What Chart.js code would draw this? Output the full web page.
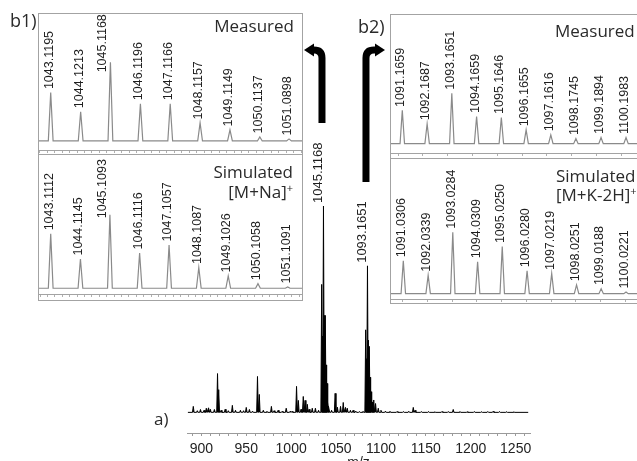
<!DOCTYPE html>
<html>
<head>
<meta charset="utf-8">
<script src="https://cdn.jsdelivr.net/npm/chart.js@4.4.1/dist/chart.umd.min.js"></script>
<style>
  html, body { margin: 0; padding: 0; background: #fff; }
  body { width: 637px; height: 461px; overflow: hidden; position: relative; font-family: "Open Sans", sans-serif; }
  #full { position: absolute; left: 0; top: 0; }
  .inset { position: absolute; box-sizing: border-box; border: 1px solid #a3a3a3; background: #fff; }
  .inset canvas { position: absolute; left: 0; }
  .tag { position: absolute; color: #2a2a2a; font-size: 17px; line-height: 1; white-space: nowrap; }
  .tag sup { font-size: 11px; vertical-align: 6px; line-height: 0; }
</style>
</head>
<body>
<canvas id="full" width="637" height="472"></canvas>

<div class="inset" id="b1" style="left:38px; top:13px; width:265px; height:288px;">
  <canvas id="b1Meas" width="263" height="139" style="top:0px"></canvas>
  <canvas id="b1Sim" width="263" height="143" style="top:140px"></canvas>
  <div class="tag" style="right:8px; top:3px;">Measured</div>
  <div class="tag" style="right:9px; top:149px;">Simulated</div>
  <div class="tag" style="right:9px; top:169px;">[M+Na]<sup>+</sup></div>
</div>

<div class="inset" id="b2" style="left:390px; top:14px; width:260px; height:290px;">
  <canvas id="b2Meas" width="258" height="141" style="top:0px"></canvas>
  <canvas id="b2Sim" width="258" height="144" style="top:143px"></canvas>
  <div class="tag" style="left:164px; top:7px;">Measured</div>
  <div class="tag" style="left:165px; top:152px;">Simulated</div>
  <div class="tag" style="left:165px; top:171px;">[M+K-2H]<sup>+</sup></div>
</div>

<div class="tag" style="left:10px; top:11px; font-size:18px;">b1)</div>
<div class="tag" style="left:358px; top:17px; font-size:18px;">b2)</div>
<div class="tag" style="left:154px; top:410px;">a)</div>

<script>
// ---- full spectrum (a): peak positions as they sit on the m/z axis, heights in % of base peak
const fullMz = [891, 895.5, 899, 903, 905.5, 908, 910, 914.5, 918, 919.3, 922, 926.5, 930, 934.5, 938,
  943.5, 947, 950, 953.5, 957, 962.5, 964.5, 969, 973, 978, 981, 985.5, 990, 994.5, 999, 1001,
  1006, 1008, 1011, 1013.5, 1015.5, 1018, 1020, 1023.5, 1027, 1030.5,
  1034, 1035, 1036, 1037, 1038, 1039, 1040, 1041, 1042, 1045,
  1049, 1051.5, 1055, 1058, 1060.5, 1062.5, 1066, 1069, 1072, 1076, 1080,
  1083, 1084, 1085, 1086, 1087, 1088, 1089, 1090, 1091, 1092,
  1094, 1097, 1100, 1105, 1110, 1118, 1125, 1131, 1136, 1138, 1145, 1153, 1160, 1168, 1175,
  1180.5, 1188, 1196, 1204, 1212, 1219, 1225, 1232, 1240, 1248];
const fullInt = [2.9, 0.8, 1.4, 1, 2, 2.2, 1.5, 1.4, 18.8, 11, 1, 1.5, 0.8, 3.4, 1,
  1, 0.8, 2.4, 1.4, 0.6, 17.4, 8.7, 1, 0.5, 2.9, 0.8, 1, 0.5, 2, 0.6, 0.5,
  12.6, 5.8, 1.5, 7.7, 5.8, 3.9, 1.5, 2, 2, 1,
  62, 37, 100, 47, 47, 23, 14, 5, 3, 1,
  9.2, 2.5, 2.9, 4.8, 2.4, 2, 1, 1, 0.6, 0.4, 0.5,
  40, 26, 71, 35, 32, 17, 10, 6, 5, 6,
  4.3, 2, 1, 0.6, 0.5, 0.4, 0.4, 0.5, 2.4, 1, 0.4, 0.4, 0.3, 0.4, 0.4,
  1.4, 0.4, 0.3, 0.4, 0.3, 0.4, 0.5, 0.4, 0.3, 0.3];
const fullTagText = ['1045.1168', '1093.1651'];
const fullTagAt = [1036, 1085];
const fullTagHeight = [100, 71];

// ---- b1: [M+Na]+ isotope pattern
const b1MeasMz = [1043.1195, 1044.1213, 1045.1168, 1046.1196, 1047.1166, 1048.1157, 1049.1149, 1050.1137, 1051.0898];
const b1MeasInt = [61.5, 37.2, 100, 47.4, 47.4, 23, 14.1, 5.1, 2.6];
const b1SimMz = [1043.1112, 1044.1145, 1045.1093, 1046.1116, 1047.1057, 1048.1087, 1049.1026, 1050.1058, 1051.1091];
const b1SimInt = [74, 39.7, 100, 48, 58.9, 28.2, 16.8, 6.3, 1.8];

// ---- b2: [M+K-2H]+ isotope pattern
const b2MeasMz = [1091.1659, 1092.1687, 1093.1651, 1094.1659, 1095.1646, 1096.1655, 1097.1616, 1098.1745, 1099.1894, 1100.1983];
const b2MeasInt = [66, 39.4, 100, 54, 52, 27.4, 17.4, 10, 12, 12];
const b2SimMz = [1091.0306, 1092.0339, 1093.0284, 1094.0309, 1095.0250, 1096.0280, 1097.0219, 1098.0251, 1099.0188, 1100.0221];
const b2SimInt = [53.6, 30, 100, 52, 76.6, 37.2, 32.8, 14.3, 8.2, 2.8];

// turns a peak list into a stick profile on a flat baseline
function profile(mz, inten, half, lo, hi) {
  const pts = [{x: lo, y: 0}];
  mz.forEach((m, i) => {
    pts.push({x: m - half, y: 0}, {x: m, y: inten[i]}, {x: m + half, y: 0});
  });
  pts.push({x: hi, y: 0});
  return pts;
}

// vertical m/z labels sitting on top of the peaks
const peakTags = {
  id: 'peakTags',
  afterDatasetsDraw(chart, args, o) {
    const ctx = chart.ctx, x = chart.scales.x, y = chart.scales.y;
    const nudge = o.nudge || {};
    ctx.save();
    ctx.font = o.font;
    ctx.fillStyle = '#1e1e1e';
    ctx.textAlign = 'left';
    ctx.textBaseline = 'middle';
    o.at.forEach((m, i) => {
      const n = nudge[i] || [0, 0];
      ctx.save();
      ctx.translate(x.getPixelForValue(m) + o.dx + n[0], y.getPixelForValue(o.height[i]) - o.gap + n[1]);
      ctx.rotate(-Math.PI / 2);
      ctx.fillText(o.text[i], 0, 0);
      ctx.restore();
    });
    ctx.restore();
  }
};

// line along the top of the lower panels
const topRule = {
  id: 'topRule',
  afterDraw(chart, args, o) {
    if (!o.show) return;
    const ctx = chart.ctx, a = chart.chartArea;
    ctx.save();
    ctx.strokeStyle = '#a3a3a3';
    ctx.lineWidth = 1;
    ctx.beginPath();
    ctx.moveTo(a.left, a.top + 0.5);
    ctx.lineTo(a.right, a.top + 0.5);
    ctx.stroke();
    ctx.restore();
  }
};

// the two thick arrows pointing from the peaks to the zoomed panels
const arrows = {
  id: 'arrows',
  afterDraw(chart) {
    const ctx = chart.ctx, x = chart.scales.x;
    ctx.save();
    ctx.strokeStyle = '#000';
    ctx.fillStyle = '#000';
    ctx.lineWidth = 7;
    // left one, up from 1045 then to b1
    let bx = x.getPixelForValue(fullTagAt[0]) - 1.5;
    ctx.beginPath();
    ctx.moveTo(bx, 123);
    ctx.lineTo(bx, 58);
    ctx.quadraticCurveTo(bx, 50, bx - 8, 50);
    ctx.lineTo(312, 50);
    ctx.stroke();
    ctx.beginPath();
    ctx.moveTo(304, 50); ctx.lineTo(314, 43.5); ctx.lineTo(314, 56.5); ctx.closePath();
    ctx.fill();
    // right one, up from 1093 then to b2
    bx = x.getPixelForValue(fullTagAt[1]) - 1.5;
    ctx.beginPath();
    ctx.moveTo(bx, 182);
    ctx.lineTo(bx, 58);
    ctx.quadraticCurveTo(bx, 50, bx + 8, 50);
    ctx.lineTo(377, 50);
    ctx.stroke();
    ctx.beginPath();
    ctx.moveTo(385, 50); ctx.lineTo(375, 43.5); ctx.lineTo(375, 56.5); ctx.closePath();
    ctx.fill();
    ctx.restore();
  }
};

// main spectrum
new Chart(document.getElementById('full').getContext('2d'), {
  type: 'line',
  data: {
    datasets: [{
      data: profile(fullMz, fullInt, 0.9, 885, 1264),
      borderColor: '#000',
      backgroundColor: '#000',
      borderWidth: 1,
      fill: 'origin',
      pointRadius: 0,
      tension: 0
    }]
  },
  options: {
    responsive: false,
    animation: false,
    layout: { padding: { left: 187, right: 107, top: 206, bottom: 0 } },
    plugins: {
      legend: { display: false },
      tooltip: { enabled: false },
      peakTags: { text: fullTagText, at: fullTagAt, height: fullTagHeight, dx: -5, gap: 3,
                  font: '13px "Liberation Sans", Arial, sans-serif' }
    },
    scales: {
      x: {
        type: 'linear', min: 884, max: 1266,
        afterFit: s => { s.height = 39; },
        border: { display: true, color: '#9a9a9a' },
        grid: { display: true, drawOnChartArea: false, drawTicks: true, tickLength: 3, color: '#9a9a9a' },
        ticks: {
          stepSize: 10, autoSkip: false, maxRotation: 0, includeBounds: false, padding: 5,
          color: '#222', font: { family: '"Liberation Sans", Arial, sans-serif', size: 14 },
          callback: v => (v % 50 === 0 ? v : '')
        },
        title: { display: true, text: 'm/z', color: '#222', padding: { top: 0, bottom: 0 },
                 font: { family: '"Liberation Sans", Arial, sans-serif', size: 14 } }
      },
      y: { display: false, min: -10, max: 100 }
    }
  },
  plugins: [peakTags, arrows]
});

// one zoomed panel
function panel(id, mz, inten, half, xmin, xmax, ymin, ymax, step, rule, nudge) {
  new Chart(document.getElementById(id).getContext('2d'), {
    type: 'line',
    data: {
      datasets: [{
        data: profile(mz, inten, half, xmin, xmax),
        borderColor: '#8a8a8a',
        borderWidth: 1.2,
        fill: false,
        pointRadius: 0,
        tension: 0
      }]
    },
    options: {
      responsive: false,
      animation: false,
      layout: { padding: 0 },
      plugins: {
        legend: { display: false },
        tooltip: { enabled: false },
        peakTags: { text: mz.map(v => v.toFixed(4)), at: mz, height: inten, dx: -1.5, gap: 3.5, nudge: nudge,
                    font: '12.5px "Liberation Sans", Arial, sans-serif' },
        topRule: { show: rule }
      },
      scales: {
        x: {
          type: 'linear', min: xmin, max: xmax,
          border: { display: true, color: '#a3a3a3' },
          grid: { display: true, drawOnChartArea: false, drawTicks: true, tickLength: 3, color: '#b0b0b0' },
          ticks: { display: false, stepSize: step, autoSkip: false, includeBounds: false }
        },
        y: { display: false, min: ymin, max: ymax }
      }
    },
    plugins: [peakTags, topRule]
  });
}

// the tallest b1 labels were pushed down beside their peak to stay inside the box
panel('b1Meas', b1MeasMz, b1MeasInt, 0.08, 1042.728, 1051.524, -11.5, 161.5, 0.25, false, {2: [-6.5, 13.5]});
panel('b1Sim', b1SimMz, b1SimInt, 0.08, 1042.716, 1051.592, -7.8, 182.6, 0.25, true, {2: [-6, 7]});
panel('b2Meas', b2MeasMz, b2MeasInt, 0.09, 1090.710, 1101.126, -18.6, 255.4, 1, false);
panel('b2Sim', b2SimMz, b2SimInt, 0.09, 1090.534, 1100.950, -8.7, 220.8, 1, true);
</script>
</body>
</html>
